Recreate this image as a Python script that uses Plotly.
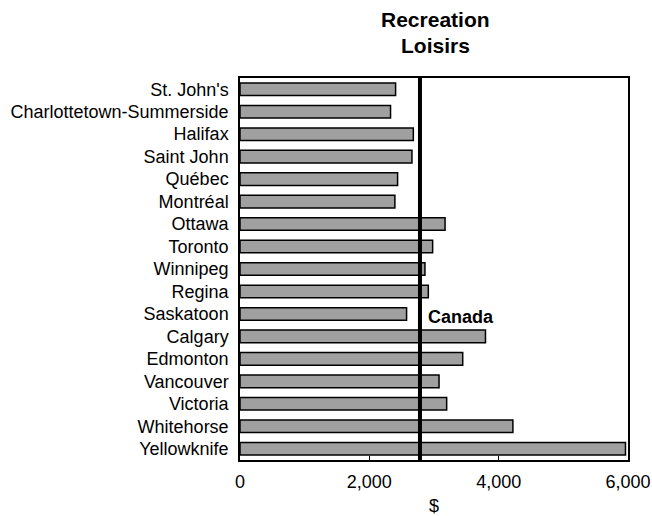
import plotly.graph_objects as go

cities = ["St. John's", "Charlottetown-Summerside", "Halifax", "Saint John", "Québec",
          "Montréal", "Ottawa", "Toronto", "Winnipeg", "Regina", "Saskatoon", "Calgary",
          "Edmonton", "Vancouver", "Victoria", "Whitehorse", "Yellowknife"]
values = [2406, 2328, 2680, 2659, 2437, 2395, 3171, 2979, 2860, 2912, 2576, 3796,
          3444, 3078, 3196, 4220, 5961]
canada = 2783
tick_vals = [0, 2000, 4000, 6000]
tick_text = ["0", "2,000", "4,000", "6,000"]
title_lines = ["Recreation", "Loisirs"]

font = "Liberation Sans, Arial, sans-serif"

fig = go.Figure()
fig.add_trace(go.Bar(
    y=cities, x=values, orientation="h",
    marker=dict(color="#a0a0a0", line=dict(color="black", width=1.5)),
    width=0.56, hoverinfo="x+y"))

fig.add_shape(type="line", xref="x", yref="paper", x0=canada, x1=canada, y0=0, y1=1,
              line=dict(color="black", width=4))
fig.add_annotation(x=canada, y="Saskatoon", xref="x", yref="y", text="<b>Canada</b>",
                   showarrow=False, xanchor="left", xshift=6, yshift=-3,
                   font=dict(family=font, size=18, color="black"))

for txt, shift in zip(title_lines, [59, 33]):
    fig.add_annotation(x=0.505, y=1, xref="paper", yref="paper", text="<b>" + txt + "</b>",
                       showarrow=False, xanchor="center", yanchor="middle", yshift=shift,
                       font=dict(family=font, size=21, color="black"))

fig.update_layout(
    width=652, height=516,
    margin=dict(l=240, r=24, t=78, b=56),
    paper_bgcolor="white", plot_bgcolor="white",
    showlegend=False,
    font=dict(family=font, size=18, color="black"),
    xaxis=dict(range=[0, 6000], tickvals=tick_vals, ticktext=tick_text,
               ticks="inside", ticklen=4, tickcolor="black", tickwidth=1,
               showgrid=False, zeroline=False, showline=True, linecolor="black",
               linewidth=1.5, mirror=True, tickfont=dict(size=18), automargin=False,
               ticklabelstandoff=5,
               title=dict(text="$", standoff=9, font=dict(size=18))),
    yaxis=dict(categoryorder="array", categoryarray=cities[::-1],
               autorange=False, range=[-0.5, 16.5], tickfont=dict(size=18),
               automargin=False,
               showgrid=False, zeroline=False, showline=True, linecolor="black",
               linewidth=1.5, mirror=True, ticks="", ticklabelstandoff=6),
)
fig.write_html("out.html",
               config={"displayModeBar": False},
               post_script="document.body.style.margin='0';document.body.style.overflow='hidden';")
